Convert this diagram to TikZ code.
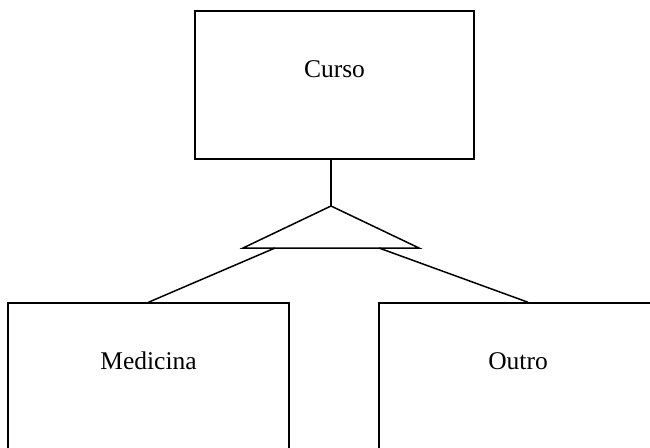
\documentclass[tikz,border=0pt]{standalone}
\usepackage{fontspec}
\setmainfont{Liberation Serif}
\usetikzlibrary{calc}
\begin{document}
\begin{tikzpicture}[x=1pt,y=-1pt,line width=1.5pt,
  entity/.style={draw,rectangle,inner sep=0pt,align=center,
    font=\fontsize{25.5}{30}\selectfont,text height=66pt,text depth=82pt}]
\useasboundingbox (0,0) rectangle (650,447);
\clip (0,0) rectangle (650,447);
\node[entity,minimum width=279pt] (curso) at (334.5,85) {Curso};
\node[entity,minimum width=281pt] (medicina) at (148.5,377) {Medicina};
\node[entity,minimum width=278pt] (outro) at (518,377) {Outro};
\coordinate (apex) at (331,206);
\coordinate (bl) at (243,248);
\coordinate (br) at (419,248);
\coordinate (lstart) at (275,248);
\coordinate (rstart) at (379,248);
\draw[line join=miter] (apex) -- (bl) -- (br) -- cycle;
\draw (curso.south -| apex) -- (apex);
\draw (lstart) -- (medicina.north);
\draw (rstart) -- ($(outro.north)+(10,0)$);
\end{tikzpicture}
\end{document}
